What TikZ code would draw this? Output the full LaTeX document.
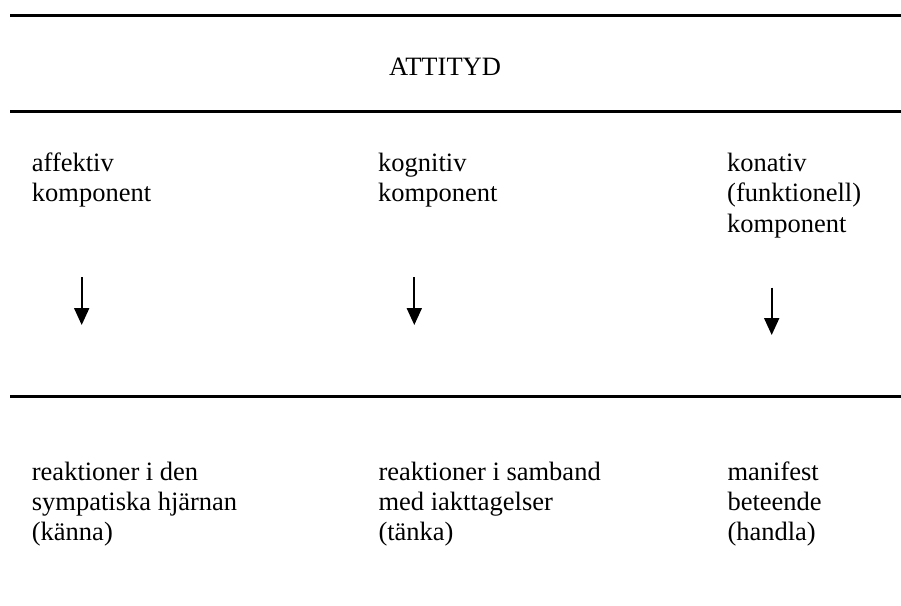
\documentclass[tikz,border=0pt]{standalone}
\usepackage{fontspec}
\setmainfont{Liberation Serif}
\usetikzlibrary{arrows.meta}
\begin{document}
\begin{tikzpicture}[x=1pt,y=-1pt,
  rule/.style={line width=3pt},
  % base anchor of a multi-line label sits on its last line
  label/.style={anchor=base west,align=left,inner sep=0pt,
    font=\fontsize{26.5}{30.2}\selectfont},
  downarrow/.style={line width=2pt,-{Triangle[width=15pt,length=17pt]}}]
  \useasboundingbox (0,0) rectangle (901,605);

  % horizontal rules
  \coordinate (r1a) at (10,15.5);  \coordinate (r1b) at (901,15.5);
  \coordinate (r2a) at (10,111);   \coordinate (r2b) at (901,111);
  \coordinate (r3a) at (10,396.5); \coordinate (r3b) at (901,396.5);
  \draw[rule] (r1a) -- (r1b);
  \draw[rule] (r2a) -- (r2b);
  \draw[rule] (r3a) -- (r3b);

  % title
  \node[label,anchor=base] (title) at (445,75.7) {ATTITYD};

  % components
  \node[label] (aff) at (31.7,201.5) {affektiv\\komponent};
  \node[label] (kog) at (378,201.5) {kognitiv\\komponent};
  \node[label] (kon) at (727,232) {konativ\\(funktionell)\\komponent};

  % arrows
  \coordinate (a1s) at (81.7,277.3); \coordinate (a1e) at (81.7,325);
  \coordinate (a2s) at (414.3,277.3); \coordinate (a2e) at (414.3,325);
  \coordinate (a3s) at (771.7,287.7); \coordinate (a3e) at (771.7,335);
  \draw[downarrow] (a1s) -- (a1e);
  \draw[downarrow] (a2s) -- (a2e);
  \draw[downarrow] (a3s) -- (a3e);

  % reactions
  \node[label] (kanna) at (31.7,540.4) {reaktioner i den\\sympatiska hjärnan\\(känna)};
  \node[label] (tanka) at (378.3,540.4) {reaktioner i samband\\med iakttagelser\\(tänka)};
  \node[label] (handla) at (727.3,540.4) {manifest\\beteende\\(handla)};
\end{tikzpicture}
\end{document}
